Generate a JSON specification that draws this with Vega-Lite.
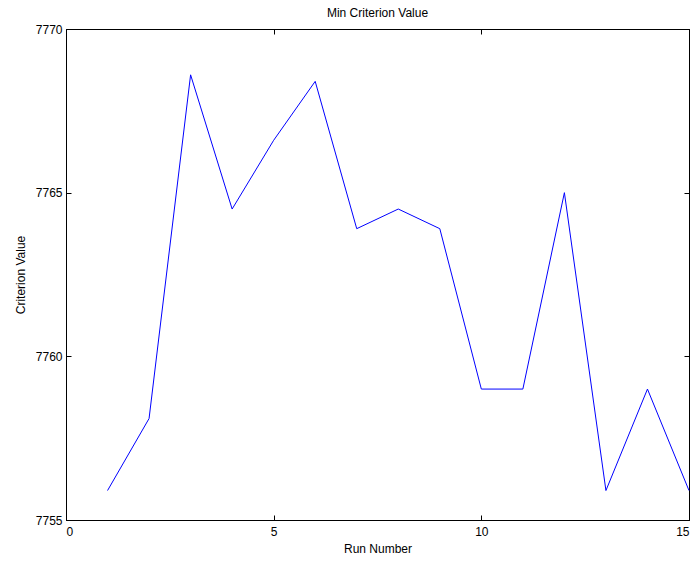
{
  "$schema": "https://vega.github.io/schema/vega-lite/v6.json",
  "autosize": "none",
  "width": 623,
  "height": 491,
  "padding": {"left": 66, "top": 29, "right": 7, "bottom": 41},
  "background": "white",
  "config": {
    "font": "Liberation Sans",
    "view": {"stroke": "black", "strokeWidth": 1},
    "axis": {
      "grid": false,
      "domainColor": "black",
      "domainWidth": 1,
      "tickColor": "black",
      "tickSize": -5,
      "labelColor": "black",
      "labelFontSize": 12,
      "labelFont": "Liberation Sans",
      "titleFont": "Liberation Sans",
      "titleFontSize": 12,
      "titleFontWeight": "normal",
      "titleColor": "black"
    }
  },
  "title": {
    "text": "Min Criterion Value",
    "fontSize": 12,
    "fontWeight": "normal",
    "font": "Liberation Sans",
    "color": "black",
    "offset": 3
  },
  "data": {
    "values": [
      {"run": 1, "value": 7755.9},
      {"run": 2, "value": 7758.1},
      {"run": 3, "value": 7768.6},
      {"run": 4, "value": 7764.5},
      {"run": 5, "value": 7766.6},
      {"run": 6, "value": 7768.4},
      {"run": 7, "value": 7763.9},
      {"run": 8, "value": 7764.5},
      {"run": 9, "value": 7763.9},
      {"run": 10, "value": 7759.0},
      {"run": 11, "value": 7759.0},
      {"run": 12, "value": 7765.0},
      {"run": 13, "value": 7755.9},
      {"run": 14, "value": 7759.0},
      {"run": 15, "value": 7755.9}
    ]
  },
  "layer": [
    {
      "mark": {"type": "line", "color": "#0000ff", "strokeWidth": 1},
      "encoding": {
        "x": {
          "field": "run",
          "type": "quantitative",
          "scale": {"domain": [0, 15], "nice": false, "zero": false},
          "axis": {"orient": "bottom", "values": [0, 5, 10, 15], "format": "d", "title": "Run Number", "labelPadding": 11, "titlePadding": 6}
        },
        "y": {
          "field": "value",
          "type": "quantitative",
          "scale": {"domain": [7755, 7770], "nice": false, "zero": false},
          "axis": {"orient": "left", "values": [7755, 7760, 7765, 7770], "format": "d", "title": "Criterion Value", "labelPadding": 9, "titlePadding": 8}
        }
      }
    },
    {
      "mark": {"type": "line", "opacity": 0},
      "encoding": {
        "x": {
          "field": "run",
          "type": "quantitative",
          "scale": {"domain": [0, 15], "nice": false, "zero": false},
          "axis": {"orient": "top", "values": [0, 5, 10, 15], "labels": false, "title": null}
        },
        "y": {
          "field": "value",
          "type": "quantitative",
          "scale": {"domain": [7755, 7770], "nice": false, "zero": false},
          "axis": {"orient": "right", "values": [7755, 7760, 7765, 7770], "labels": false, "title": null}
        }
      }
    }
  ],
  "resolve": {"axis": {"x": "independent", "y": "independent"}}
}
